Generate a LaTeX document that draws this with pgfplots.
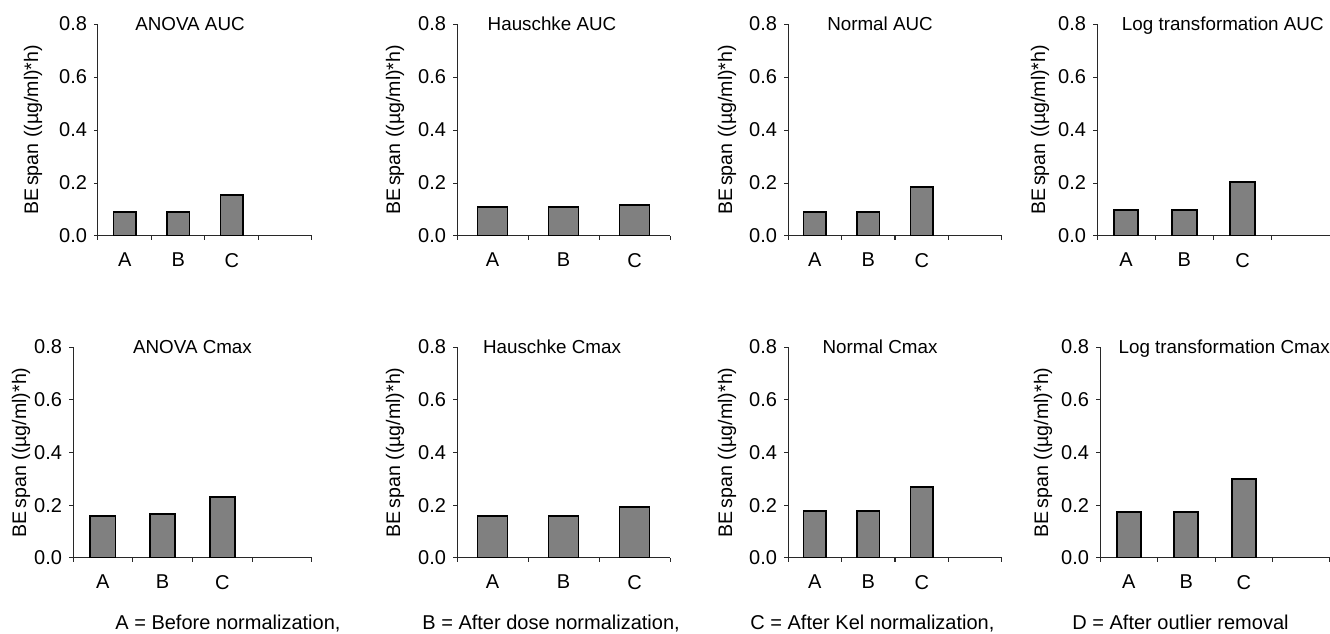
\documentclass[border=0pt]{standalone}
\usepackage{fontspec}
\setmainfont{Liberation Sans}
\usepackage{pgfplots}
\pgfplotsset{compat=1.18}
\definecolor{barfill}{RGB}{128,128,128}
\definecolor{axline}{RGB}{40,40,40}

\newcommand{\ttlfont}{\fontsize{9.4}{11}\selectfont}
\newcommand{\labfont}{\fontsize{9.8}{11}\selectfont}

\pgfplotsset{
  panel/.style={
    scale only axis,
    anchor=south west,
    xmin=0, ymin=0, ymax=0.8,
    axis x line=bottom, axis y line=left,
    axis line style={-, line width=0.5pt, draw=axline},
    tick align=outside, major tick length=2pt,
    tick style={line width=0.5pt, draw=axline},
    ytick={0,0.2,0.4,0.6,0.8},
    /pgf/number format/assume math mode=true,
    yticklabel style={/pgf/number format/fixed,
      /pgf/number format/fixed zerofill,
      /pgf/number format/precision=1,
      font=\fontsize{10}{11}\selectfont},
    xticklabels={},
    extra x ticks={0.5,1.5,2.5},
    extra x tick labels={A,B,C},
    extra x tick style={major tick length=0pt,
      xticklabel style={yshift=-5pt, font=\fontsize{10}{11}\selectfont}},
    ylabel={BE\hspace{0.15em}span ((µg/ml)*h)},
  },
  four/.style={xmax=4, xtick={0,1,2,3,4}},
  three/.style={xmax=3, xtick={0,1,2,3}},
  ylab/.style={every axis y label/.style={at={(axis description cs:0,0.5)},
      xshift=-#1, rotate=90, anchor=center, font=\labfont}},
  ttl/.style={every axis title/.style={at={(axis description cs:#1,1)},
      anchor=base, yshift=-3.3pt, font=\ttlfont}},
  bars/.style={ybar, bar width=0.42, fill=barfill, draw=black, line width=0.9pt},
}

\begin{document}
\begin{tikzpicture}
\useasboundingbox (0,0) rectangle (665pt,316.5pt);

% ---- top row: AUC ----
\begin{axis}[panel, four, at={(49pt,198.5pt)}, width=107pt, height=106pt,
  ylab=32.5pt, ttl=0.43, title={ANOVA AUC}]
\addplot[bars] coordinates {(0.5,0.090) (1.5,0.090) (2.5,0.155)};
\end{axis}

\begin{axis}[panel, three, at={(228.5pt,198.5pt)}, width=106.5pt, height=106pt,
  ylab=31pt, ttl=0.446, title={Hauschke AUC}]
\addplot[bars] coordinates {(0.5,0.110) (1.5,0.110) (2.5,0.117)};
\end{axis}

\begin{axis}[panel, four, at={(394pt,198.5pt)}, width=107pt, height=106pt,
  ylab=30.5pt, ttl=0.43, title={Normal AUC}]
\addplot[bars] coordinates {(0.5,0.090) (1.5,0.090) (2.5,0.185)};
\end{axis}

\begin{axis}[panel, four, at={(548.5pt,198.5pt)}, width=116.5pt, height=106pt,
  ylab=28.5pt, ttl=0.54, title={Log transformation AUC}]
\addplot[bars] coordinates {(0.5,0.098) (1.5,0.098) (2.5,0.204)};
\end{axis}

% ---- bottom row: Cmax ----
\begin{axis}[panel, four, at={(36.5pt,37.5pt)}, width=119.5pt, height=105.5pt,
  ylab=26pt, ttl=0.50, title={ANOVA Cmax}]
\addplot[bars] coordinates {(0.5,0.160) (1.5,0.167) (2.5,0.230)};
\end{axis}

\begin{axis}[panel, three, at={(228.5pt,37.5pt)}, width=106.5pt, height=105.5pt,
  ylab=31pt, ttl=0.446, title={Hauschke Cmax}]
\addplot[bars] coordinates {(0.5,0.160) (1.5,0.160) (2.5,0.193)};
\end{axis}

\begin{axis}[panel, four, at={(394pt,37.5pt)}, width=107pt, height=105.5pt,
  ylab=30.5pt, ttl=0.43, title={Normal Cmax}]
\addplot[bars] coordinates {(0.5,0.178) (1.5,0.178) (2.5,0.270)};
\end{axis}

\begin{axis}[panel, four, at={(550pt,37.5pt)}, width=115pt, height=105.5pt,
  ylab=28.5pt, ttl=0.54, title={Log transformation Cmax}]
\addplot[bars] coordinates {(0.5,0.174) (1.5,0.174) (2.5,0.300)};
\end{axis}

% key to the categories
\begin{scope}[every node/.style={anchor=base west, inner sep=0pt,
    font=\fontsize{10}{11}\selectfont}]
\node at (57.5pt,1.8pt) {A = Before normalization,};
\node at (211pt,1.8pt) {B = After dose normalization,};
\node at (375pt,1.8pt) {C = After Kel normalization,};
\node at (536pt,1.8pt) {D = After outlier removal};
\end{scope}
\end{tikzpicture}
\end{document}
